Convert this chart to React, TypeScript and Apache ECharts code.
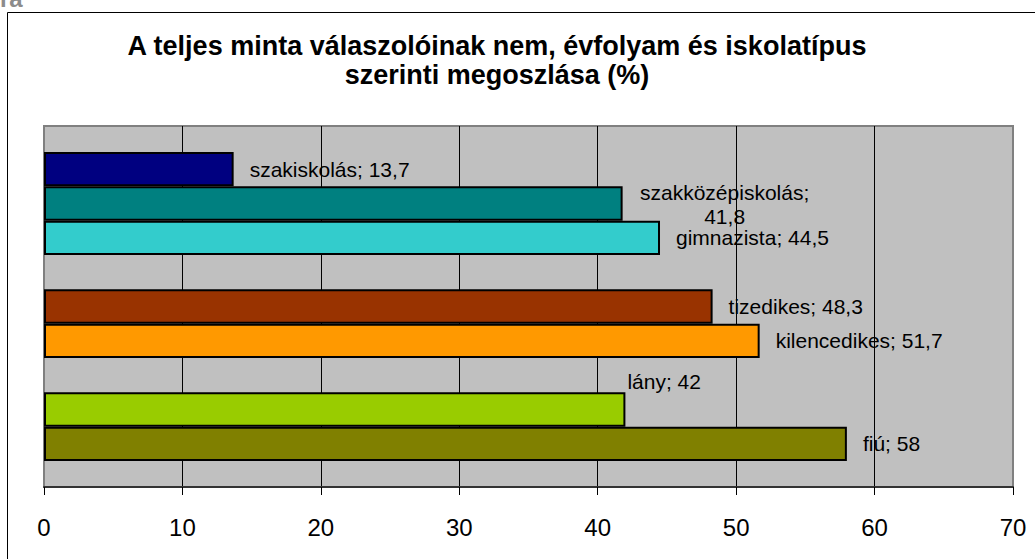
import React, { useEffect, useRef } from "react";
import * as echarts from "echarts";

const categories = ["szakiskolás", "szakközépiskolás", "gimnazista", "", "tizedikes", "kilencedikes", "", "lány", "fiú"];
const values: (number | null)[] = [13.7, 41.8, 44.5, null, 48.3, 51.7, null, 42, 58];
const barColors = ["#000080", "#008080", "#33CCCC", "", "#993300", "#FF9900", "", "#99CC00", "#808000"];
const xTicks = [0, 10, 20, 30, 40, 50, 60, 70];
const titleText = "A teljes minta válaszolóinak nem, évfolyam és iskolatípus\nszerinti megoszlása (%)";

const FONT = 'Arial, "Liberation Sans", sans-serif';

export default function App() {
  const ref = useRef<HTMLDivElement>(null);
  useEffect(() => {
    document.body.style.margin = "0";
    const chart = echarts.init(ref.current!, null, { renderer: "svg" });
    const fmt = (v: number) => String(v).replace(".", ",");
    const data = categories.map((name, i) => {
      const v = values[i];
      if (v === null) return { name, value: "-" };
      const item: any = {
        name,
        value: v,
        itemStyle: { color: barColors[i] },
      };
      if (name === "szakközépiskolás") {
        item.label = {
          formatter: `${name};\n${fmt(v)}`,
          align: "center",
          distance: 0,
          offset: [102, 1],
          lineHeight: 24,
        };
      } else if (name === "lány") {
        item.label = { distance: 2, offset: [0, -28] };
      }
      return item;
    });
    chart.setOption({
      animation: false,
      graphic: [
        {
          type: "rect",
          shape: { x: 7.5, y: 12.5, width: 1100, height: 600 },
          style: { fill: "none", stroke: "#000", lineWidth: 1 },
          z: -10,
        },
        {
          type: "text",
          x: 0,
          y: -2,
          style: { text: "ra", font: `bold 24px ${FONT}`, fill: "#8c8c8c", verticalAlign: "middle", align: "left" },
        },
        {
          type: "text",
          x: 497,
          y: 60,
          style: {
            text: titleText,
            font: `bold 27px ${FONT}`,
            fill: "#000",
            align: "center",
            verticalAlign: "middle",
            lineHeight: 29,
          },
        },
      ],
      grid: [
        { left: 44, right: 22, top: 152, height: 309, show: false },
        {
          left: 44,
          right: 22,
          top: 126,
          bottom: 72,
          show: true,
          backgroundColor: "#C0C0C0",
          borderColor: "#808080",
          borderWidth: 2,
        },
      ],
      xAxis: [
        { gridIndex: 0, type: "value", min: 0, max: 70, interval: 10, show: false },
        {
          gridIndex: 1,
          type: "value",
          min: 0,
          max: 70,
          interval: 10,
          axisLine: { show: true, lineStyle: { color: "#333", width: 2 } },
          axisTick: { show: true, length: 8, lineStyle: { color: "#000", width: 1 } },
          splitLine: { show: true, showMinLine: false, showMaxLine: false, lineStyle: { color: "#000", width: 1 } },
          axisLabel: {
            fontSize: 24,
            fontFamily: FONT,
            color: "#000",
            margin: 28,
            formatter: (v: number) => (xTicks.includes(v) ? String(v) : ""),
          },
        },
      ],
      yAxis: [
        { gridIndex: 0, type: "category", data: categories, inverse: true, show: false },
        { gridIndex: 1, type: "value", min: 0, max: 1, show: false },
      ],
      series: [
        {
          type: "bar",
          xAxisIndex: 0,
          yAxisIndex: 0,
          data,
          barWidth: "100%",
          itemStyle: { borderColor: "#000", borderWidth: 2 },
          label: {
            show: true,
            position: "right",
            distance: 16,
            fontSize: 21,
            fontFamily: FONT,
            color: "#000",
            formatter: (p: any) => `${p.name}; ${fmt(p.value)}`,
          },
        },
      ],
    });
    return () => chart.dispose();
  }, []);
  return <div ref={ref} style={{ position: "absolute", left: 0, top: 0, width: 1035, height: 559 }} />;
}
